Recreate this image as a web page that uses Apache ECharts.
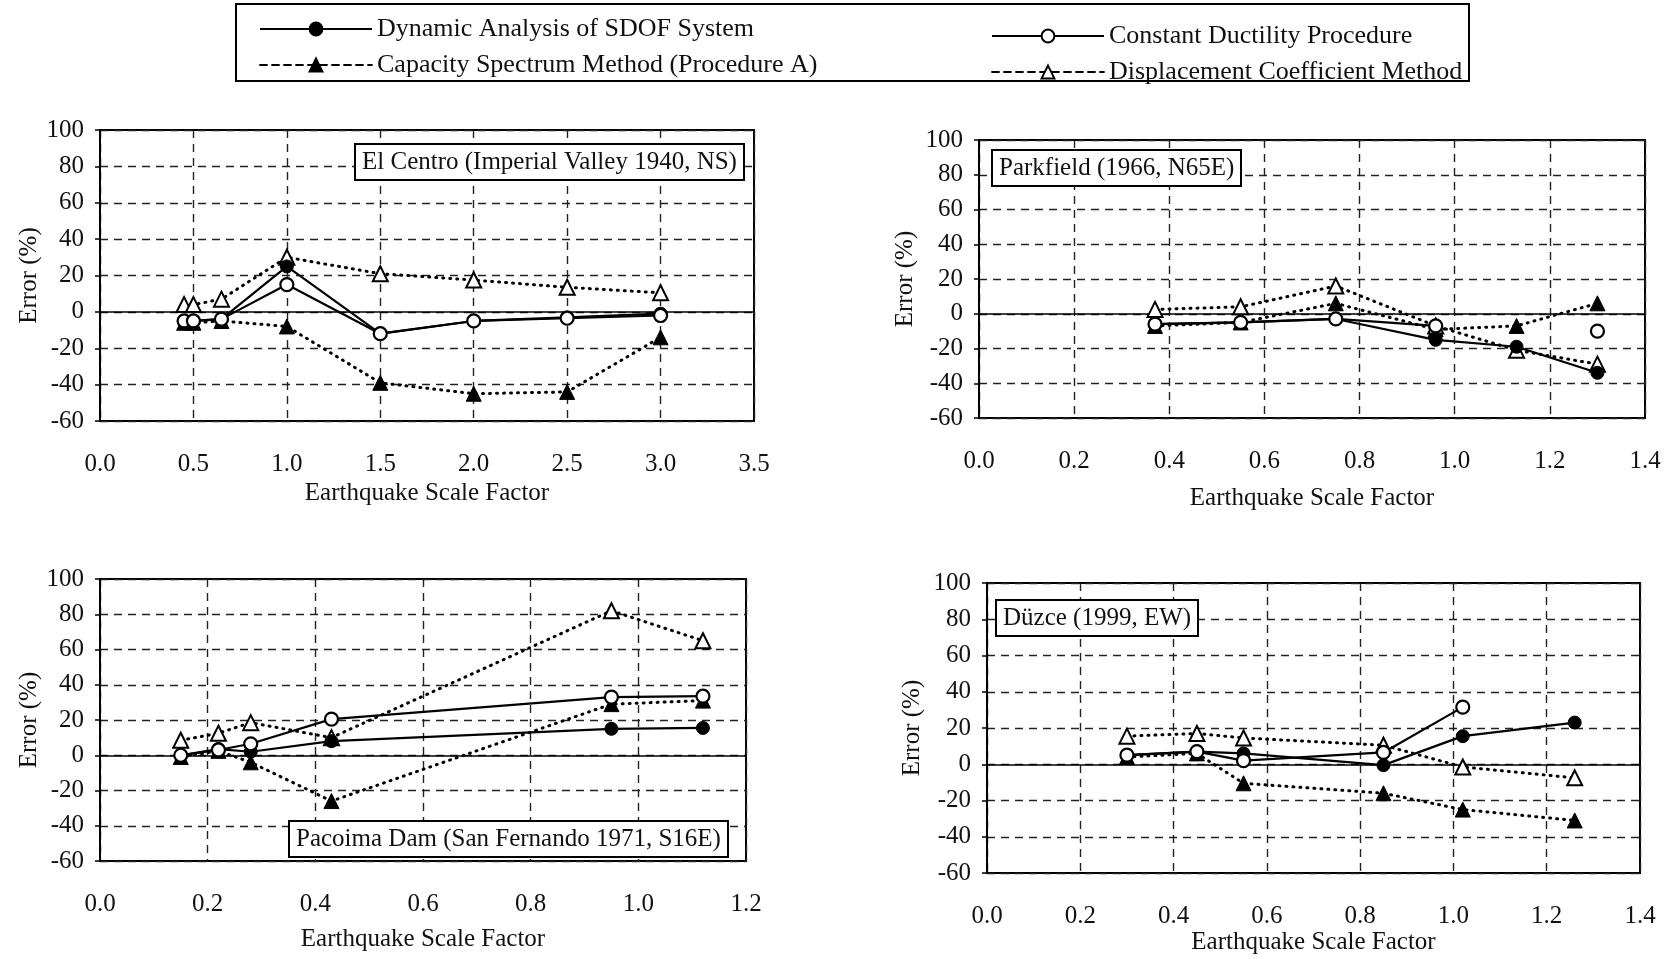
<!DOCTYPE html>
<html>
<head>
<meta charset="utf-8">
<script src="https://cdn.jsdelivr.net/npm/echarts@6/dist/echarts.min.js"></script>
<style>
html,body{margin:0;padding:0;background:#fff;}
#chart{width:1672px;height:959px;}
</style>
</head>
<body>
<div id="chart"></div>
<script>
// ---------- DATA ----------
const seriesNames = [
  'Dynamic Analysis of SDOF System',
  'Constant Ductility Procedure',
  'Capacity Spectrum Method (Procedure A)',
  'Displacement Coefficient Method'
];
const panelTitles = [
  'El Centro (Imperial Valley 1940, NS)',
  'Parkfield (1966, N65E)',
  'Pacoima Dam (San Fernando 1971, S16E)',
  'Düzce (1999, EW)'
];
const xAxisTitle = 'Earthquake Scale Factor';
const yAxisTitle = 'Error (%)';

// El Centro
const elX   = [0.45, 0.5, 0.65, 1.0, 1.5, 2.0, 2.5, 3.0];
const elDyn = [-5, -5, -4, 25, -12, -5, -3, -1];
const elCdp = [-5, -5, -4, 15, -12, -5, -3.5, -2];
const elCsm = [-6, -6, -5, -8, -39, -45, -44, -14];
const elDcm = [4, 4, 7, 30, 21, 17.5, 13.5, 10.5];

// Parkfield
const pkX   = [0.37, 0.55, 0.75, 0.96, 1.13, 1.3];
const pkDyn = [-6, -5, -3, -15, -19, -34];
const pkCdp = [-6, -5, -3, -7, null, -10];
const pkCsm = [-7, -5, 6, -9, -7, 6];
const pkDcm = [2.5, 4, 16, -7, -21, -29];

// Pacoima Dam
const pcX   = [0.15, 0.22, 0.28, 0.43, 0.95, 1.12];
const pcDyn = [0, 3.5, 2, 8, 15, 15.5];
const pcCdp = [0, 3, 6.5, 20.5, 33, 33.5];
const pcCsm = [-1, 2.5, -4, -26, 29, 31];
const pcDcm = [8.5, 12.5, 18.5, 10, 82, 65];

// Duzce
const dzX   = [0.3, 0.45, 0.55, 0.85, 1.02, 1.26];
const dzDyn = [5, 7, 6, -0.5, 15.5, 23];
const dzCdp = [5, 7, 2, 6.5, 31.5, null];
const dzCsm = [4, 6, -10.5, -16, -25, -31];
const dzDcm = [15.5, 17, 14.5, 10.5, -1.5, -7.5];

const xMax = [3.5, 1.4, 1.2, 1.4];
const xStep = [0.5, 0.2, 0.2, 0.2];
const yMin = -60, yMax = 100, yStep = 20;

// ---------- LAYOUT / STYLE ----------
const FONT = 'Liberation Serif';
const grids = [
  {left: 100, top: 130, width: 654, height: 291},
  {left: 979, top: 140, width: 666, height: 278},
  {left: 100, top: 579, width: 646, height: 282},
  {left: 987, top: 583, width: 653, height: 290}
];
const yNameGap = [58, 61, 58, 62];
const xNameGap = [60, 68, 66, 57];
const titlePos = [
  {left: 355, top: 144},
  {left: 992, top: 150},
  {left: 289, top: 821},
  {left: 996, top: 600}
];

const panels = [
  {x: elX, ys: [elDyn, elCdp, elCsm, elDcm]},
  {x: pkX, ys: [pkDyn, pkCdp, pkCsm, pkDcm]},
  {x: pcX, ys: [pcDyn, pcCdp, pcCsm, pcDcm]},
  {x: dzX, ys: [dzDyn, dzCdp, dzCsm, dzDcm]}
];

const dotted = [1, 6];
const styles = [
  {symbol: 'circle', symbolSize: 13, itemStyle: {color: '#000', borderColor: '#000', borderWidth: 1},
   lineStyle: {color: '#000', width: 2.2, type: 'solid'}, z: 4},
  {symbol: 'circle', symbolSize: 13, itemStyle: {color: '#fff', borderColor: '#000', borderWidth: 2.2},
   lineStyle: {color: '#000', width: 2.2, type: 'solid'}, z: 5},
  {symbol: 'triangle', symbolSize: 15, itemStyle: {color: '#000', borderColor: '#000', borderWidth: 1},
   lineStyle: {color: '#000', width: 3, type: dotted, cap: 'round'}, z: 3},
  {symbol: 'triangle', symbolSize: 15, itemStyle: {color: '#fff', borderColor: '#000', borderWidth: 2},
   lineStyle: {color: '#000', width: 3, type: dotted, cap: 'round'}, z: 3}
];

const pts = (xs, ys) => xs.map((x, i) => [x, ys[i] == null ? '-' : ys[i]]);
const dec1 = v => Number(v).toFixed(1);

const xAxes = [], yAxes = [], series = [], titles = [];
panels.forEach((p, g) => {
  xAxes.push({
    type: 'value', gridIndex: g, min: 0, max: xMax[g], interval: xStep[g],
    name: xAxisTitle, nameLocation: 'middle', nameGap: xNameGap[g],
    nameTextStyle: {fontFamily: FONT, fontSize: 25, color: '#111'},
    axisLine: {show: false}, axisTick: {show: false},
    axisLabel: {fontFamily: FONT, fontSize: 25, color: '#111', margin: 31, formatter: dec1},
    splitLine: {show: true, lineStyle: {color: '#222', width: 1.4, type: [8, 6]}}
  });
  yAxes.push({
    type: 'value', gridIndex: g, min: yMin, max: yMax, interval: yStep,
    name: yAxisTitle, nameLocation: 'middle', nameGap: yNameGap[g],
    nameTextStyle: {fontFamily: FONT, fontSize: 25, color: '#111'},
    axisLine: {show: true, lineStyle: {color: '#000', width: 2}},
    axisTick: {show: true, length: 5, lineStyle: {color: '#000', width: 1.5}},
    axisLabel: {fontFamily: FONT, fontSize: 25, color: '#111', margin: 16},
    splitLine: {show: true, lineStyle: {color: '#222', width: 1.4, type: [8, 6]}}
  });
  p.ys.forEach((ys, k) => {
    const s = styles[k];
    const ser = {
      type: 'line', name: seriesNames[k], xAxisIndex: g, yAxisIndex: g,
      data: pts(p.x, ys), symbol: s.symbol, symbolSize: s.symbolSize,
      showSymbol: true, connectNulls: false, z: s.z,
      itemStyle: s.itemStyle, lineStyle: s.lineStyle, color: '#000'
    };
    if (k === 0) {
      ser.markLine = {
        silent: true, symbol: ['none', 'none'], label: {show: false},
        lineStyle: {type: 'solid', color: '#000', width: 1.6},
        data: [{yAxis: 0}], z: 2
      };
    }
    series.push(ser);
  });
  titles.push({
    text: panelTitles[g], left: titlePos[g].left, top: titlePos[g].top,
    padding: [3, 7], borderColor: '#000', borderWidth: 2, backgroundColor: '#fff',
    textStyle: {fontFamily: FONT, fontSize: 25, fontWeight: 'normal', color: '#111', lineHeight: 30}
  });
});

const legendCommon = {
  orient: 'vertical', itemWidth: 112, itemHeight: 16, itemGap: 6,
  textStyle: {fontFamily: FONT, fontSize: 26, color: '#111', lineHeight: 30},
  selectedMode: false
};

const chart = echarts.init(document.getElementById('chart'), null, {renderer: 'canvas'});
chart.setOption({
  backgroundColor: '#fff',
  animation: false,
  title: titles,
  grid: grids.map(g => Object.assign({show: true, borderColor: '#000', borderWidth: 2, backgroundColor: '#fff', containLabel: false}, g)),
  xAxis: xAxes,
  yAxis: yAxes,
  legend: [
    Object.assign({}, legendCommon, {
      left: 254, top: 9,
      data: [
        {name: seriesNames[0]},
        {name: seriesNames[2], lineStyle: {type: [7, 5], width: 1.8}}
      ]
    }),
    Object.assign({}, legendCommon, {
      left: 986, top: 16,
      data: [
        {name: seriesNames[1]},
        {name: seriesNames[3], lineStyle: {type: [7, 5], width: 1.8}}
      ]
    })
  ],
  graphic: [{
    type: 'rect', shape: {x: 236, y: 4, width: 1233, height: 77},
    style: {fill: 'none', stroke: '#000', lineWidth: 2}, z: 100
  }],
  series: series
});
</script>
</body>
</html>
